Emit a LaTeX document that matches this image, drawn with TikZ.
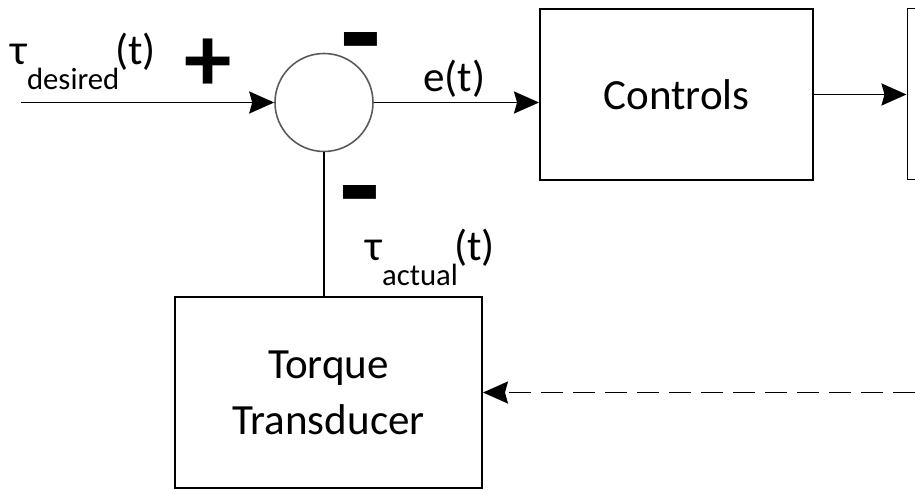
\documentclass[tikz,border=0pt]{standalone}
\usepackage{fontspec}
\setmainfont{Carlito}
\usetikzlibrary{arrows.meta, positioning}

\newcommand{\tausig}[1]{τ\raisebox{-0.5cm}{\fontsize{17.5}{19}\selectfont #1}\hspace{-0.08cm}(t)}

\begin{document}
\begin{tikzpicture}[
  font=\fontsize{24.5}{32}\selectfont,
  every node/.style={font=\fontsize{24.5}{32}\selectfont},
  box/.style={draw=black, line width=1.1pt, minimum width=5.46cm, minimum height=3.42cm, align=center, inner sep=0pt},
  junction/.style={circle, draw=black!65, line width=0.9pt, minimum size=1.96cm, inner sep=0pt},
  arrow/.style={-{Stealth[length=0.5cm, width=0.44cm, inset=0.06cm]}, line width=1.1pt, draw=black},
  dashed-arrow/.style={arrow, dash pattern=on 0.44cm off 0.2cm},
  wire/.style={line width=1.1pt, draw=black},
  sign/.style={font=\fontsize{54}{54}\selectfont\bfseries, inner sep=0pt},
  minus/.style={font=\fontsize{76}{76}\selectfont\bfseries, inner sep=0pt, anchor=base},
  siglabel/.style={inner sep=0pt, anchor=base west}
]
\clip (0,0) rectangle (18.3,9.78);

% === BLOCKS ===
\node[junction] (sum) at (6.48,7.73) {};
\node[box] (ctrl) at (13.53,7.89) {Controls};
\node[box, minimum width=3cm, anchor=west] (plant) at (18.13,7.9) {};
\node[box, minimum width=6.14cm, minimum height=3.82cm] (torque) at (6.57,1.93) {Torque\\Transducer};

% === LABELS ===
\node[siglabel] (tdes) at (0.2,8.48) {\tausig{desired}};
\node[sign] (plus) at (4.16,8.48) {+};
\node[minus] (mtop) at (7.22,8.23) {-};
\node[minus] (mbot) at (7.2,5.17) {-};
\node[siglabel] (et) at (8.46,7.94) {e(t)};
\node[siglabel] (tact) at (7.3,4.58) {\tausig{actual}};

% === CONNECTORS ===
\coordinate (in) at (0.42,7.73);
\coordinate (fb) at (18.3,1.93);
\draw[arrow] (in) -- (sum.west);
\draw[arrow] (sum.east) -- (sum.east -| ctrl.west);
\draw[arrow] (ctrl.east) -- (ctrl.east -| plant.west);
\draw[wire] (sum.south) -- (sum.south |- torque.north);
\draw[dashed-arrow] (fb) -- (torque.east);

\end{tikzpicture}
\end{document}
